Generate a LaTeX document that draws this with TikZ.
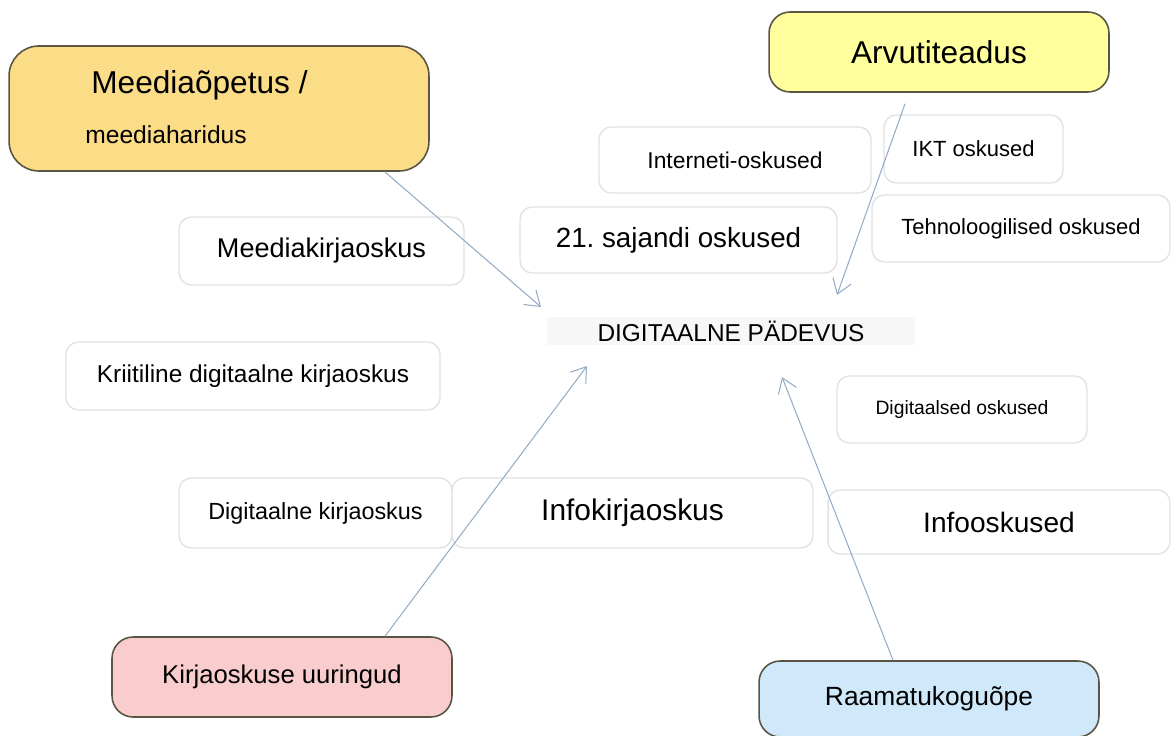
\documentclass[tikz,border=0pt]{standalone}
\usepackage{fontspec}
\setmainfont{Liberation Sans}
\usetikzlibrary{arrows.meta}
\frenchspacing

\definecolor{naranja}{HTML}{FADD86}
\definecolor{amarillo}{HTML}{FFFF9E}
\definecolor{rosa}{HTML}{F9CDCD}
\definecolor{celeste}{HTML}{CFE9FA}
\definecolor{borde}{HTML}{5A5444}
\definecolor{gris}{HTML}{E2E2E2}
\definecolor{azul}{HTML}{95ACC6}

\tikzset{
  caja/.style={draw=gris, line width=0.8pt, fill=white, rounded corners=7pt, inner sep=0pt},
  tema/.style={draw=borde, line width=0.9pt, rounded corners=17pt, inner sep=0pt},
  flecha/.style={draw=azul, line width=0.6pt, -{Straight Barb[length=8pt,width=11pt]}},
  tam/.style={font=\fontsize{#1}{#1}\selectfont}
}

\begin{document}
\begin{tikzpicture}[x=0.02cm, y=-0.02cm]

      % Marco de la imagen
      \useasboundingbox (0,0) rectangle (1172,736);

      % Temas de color
      \node[tema, fill=naranja, minimum width=8.4cm, minimum height=2.5cm] (meedia) at (219,108.5) {};
      \node[anchor=west, inner sep=0pt, tam=18] (meediaA) at (91,85) {Meediaõpetus /};
      \node[anchor=west, inner sep=0pt, tam=14] (meediaB) at (85,135) {meediaharidus};
      \node[tema, fill=amarillo, rounded corners=12pt, minimum width=6.8cm, minimum height=1.6cm, tam=18] (arvuti) at (939,52) {Arvutiteadus};
      \node[tema, fill=rosa, rounded corners=12pt, minimum width=6.8cm, minimum height=1.6cm, tam=14.6] (kirja) at (282,677) {Kirjaoskuse uuringud};
      \node[tema, fill=celeste, rounded corners=12pt, minimum width=6.8cm, minimum height=1.52cm, tam=15] (raamat) at (929,699) {Raamatukoguõpe};

      % Cajas blancas
      \node[caja, minimum width=5.44cm, minimum height=1.32cm, tam=13] (interneti) at (735,160) {Interneti-oskused};
      \node[caja, minimum width=3.58cm, minimum height=1.36cm, tam=12.5] (ikt) at (973.5,149) {IKT oskused};
      \node[caja, minimum width=6.34cm, minimum height=1.32cm, tam=15.8] (sajandi) at (678.5,240) {21. sajandi oskused};
      \node[caja, minimum width=5.96cm, minimum height=1.34cm, tam=12.5] (tehno) at (1021,228.5) {Tehnoloogilised oskused};
      \node[caja, minimum width=5.7cm, minimum height=1.36cm, tam=15.4] (meediak) at (321.5,251) {Meediakirjaoskus};
      \node[caja, minimum width=7.48cm, minimum height=1.36cm, tam=13.9] (kriit) at (253,376) {Kriitiline digitaalne kirjaoskus};
      \node[caja, minimum width=5cm, minimum height=1.34cm, tam=11] (digioskus) at (962,409.5) {Digitaalsed oskused};
      \node[caja, minimum width=5.46cm, minimum height=1.4cm, tam=13.3] (digikirja) at (315.5,513) {Digitaalne kirjaoskus};
      \node[caja, minimum width=7.22cm, minimum height=1.4cm, tam=17] (infokirja) at (632.5,513) {Infokirjaoskus};
      \node[caja, minimum width=6.84cm, minimum height=1.28cm, tam=16] (infoosk) at (999,522) {Infooskused};

      % Centro
      \node[fill=black!3, inner sep=0pt, minimum width=7.36cm, minimum height=0.56cm, tam=13.9] (digi) at (731,331) {DIGITAALNE PÄDEVUS};

      % Puntas de las flechas
      \coordinate (t1) at (541,307);
      \coordinate (t2) at (837,295);
      \coordinate (t3) at (587,366);
      \coordinate (t4) at (782,377);

      % Salidas de las flechas
      \coordinate (s1) at ([xshift=-0.9cm]meedia.south east);
      \coordinate (s2) at ([xshift=-0.68cm, yshift=-0.22cm]arvuti.south);
      \coordinate (s3) at ([xshift=2.06cm]kirja.north);
      \coordinate (s4) at ([xshift=-0.72cm]raamat.north);

      % Dibujar las flechas
      \foreach \i in {1,...,4} {
        \draw[flecha] (s\i) -- (t\i);
      }

    \end{tikzpicture}
\end{document}
